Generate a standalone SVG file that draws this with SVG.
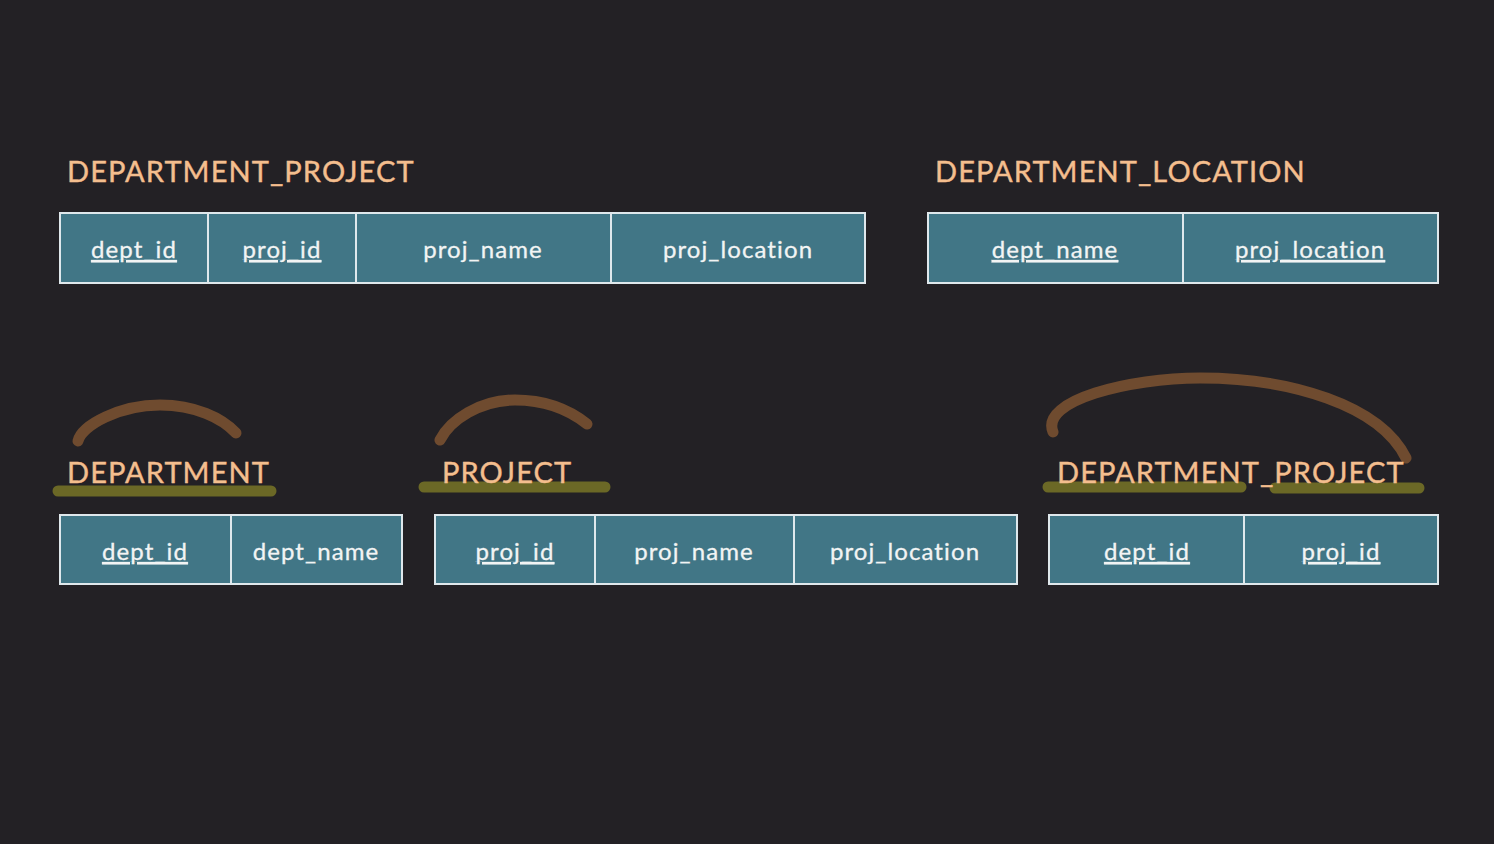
<svg xmlns="http://www.w3.org/2000/svg" width="1494" height="844" viewBox="0 0 1494 844">
<style>
.title{font-family:Lato,"Open Sans",sans-serif;font-size:29px;fill:#f4be8e;letter-spacing:1.1px;stroke:#f4be8e;stroke-width:0.4px}
.cell{fill:#417686;stroke:#dfe8ec;stroke-width:2}
.txt{font-family:Lato,"Open Sans",sans-serif;font-size:24px;fill:#f2f4f4;text-anchor:middle;letter-spacing:1.1px;stroke:#f2f4f4;stroke-width:0.3px}
.key{text-decoration:underline}
.arc{fill:none;stroke:#6f4b2f;stroke-width:11;stroke-linecap:round}
.hl{fill:none;stroke:#6b6826;stroke-width:11;stroke-linecap:round}
</style>
<rect width="1494" height="844" fill="#232125"/>

<g id="marks">
<path class="arc" d="M78,441 C82,425 120,405 160,405 C195,405 222,418 236,433"/>
<path class="arc" d="M440,440 C450,420 480,400 515,400 C548,400 572,412 587,424"/>
<path class="arc" d="M1053,432 C1040,400 1130,378 1200,378 C1290,378 1380,405 1406,458"/>
<path class="hl" d="M58,491 L271,491"/>
<path class="hl" d="M424,487 L605,487"/>
<path class="hl" d="M1048,487 L1241,487"/>
<path class="hl" d="M1275,488 L1419,488"/>
</g>

<g id="department_project_1">
<text class="title" x="67" y="182">DEPARTMENT_PROJECT</text>
<rect class="cell" x="60" y="213" width="148" height="70"/>
<rect class="cell" x="208" y="213" width="148" height="70"/>
<rect class="cell" x="356" y="213" width="255" height="70"/>
<rect class="cell" x="611" y="213" width="254" height="70"/>
<text class="txt key" x="134" y="258">dept_id</text>
<text class="txt key" x="282" y="258">proj_id</text>
<text class="txt" x="483" y="258">proj_name</text>
<text class="txt" x="738" y="258">proj_location</text>
</g>

<g id="department_location">
<text class="title" x="935" y="182">DEPARTMENT_LOCATION</text>
<rect class="cell" x="928" y="213" width="255" height="70"/>
<rect class="cell" x="1183" y="213" width="255" height="70"/>
<text class="txt key" x="1055" y="258">dept_name</text>
<text class="txt key" x="1310" y="258">proj_location</text>
</g>

<g id="department">
<text class="title" x="67" y="483">DEPARTMENT</text>
<rect class="cell" x="60" y="515" width="171" height="69"/>
<rect class="cell" x="231" y="515" width="171" height="69"/>
<text class="txt key" x="145" y="560">dept_id</text>
<text class="txt" x="316" y="560">dept_name</text>
</g>

<g id="project">
<text class="title" x="442" y="483">PROJECT</text>
<rect class="cell" x="435" y="515" width="160" height="69"/>
<rect class="cell" x="595" y="515" width="199" height="69"/>
<rect class="cell" x="794" y="515" width="223" height="69"/>
<text class="txt key" x="515" y="560">proj_id</text>
<text class="txt" x="694" y="560">proj_name</text>
<text class="txt" x="905" y="560">proj_location</text>
</g>

<g id="department_project_2">
<text class="title" x="1057" y="483">DEPARTMENT_PROJECT</text>
<rect class="cell" x="1049" y="515" width="195" height="69"/>
<rect class="cell" x="1244" y="515" width="194" height="69"/>
<text class="txt key" x="1147" y="560">dept_id</text>
<text class="txt key" x="1341" y="560">proj_id</text>
</g>
</svg>
